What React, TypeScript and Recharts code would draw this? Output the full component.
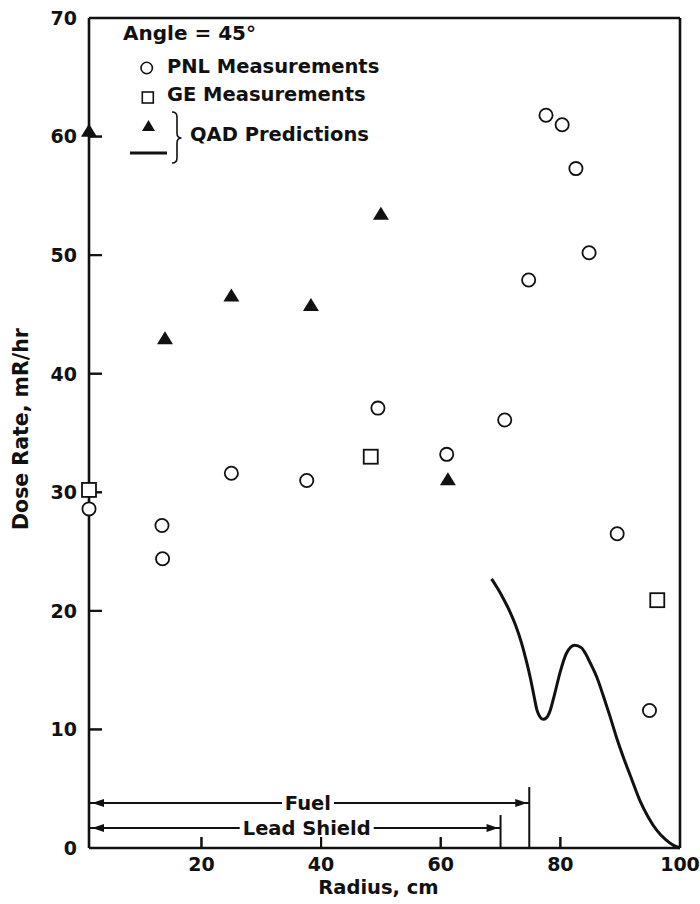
import React from 'react';
import {
  ComposedChart,
  XAxis,
  YAxis,
  Scatter,
  Line,
  ReferenceLine,
  ReferenceDot,
  Legend,
} from 'recharts';

const FONT = '"DejaVu Sans", "Liberation Sans", sans-serif';
const INK = '#111';

// ---------- data ----------
const radiusTicks = [20, 40, 60, 80, 100];
const doseTicks = [0, 10, 20, 30, 40, 50, 60, 70];
const radiusInnerTicks = [20, 40, 60, 80];
const doseInnerTicks = [10, 20, 30, 40, 50, 60];

const pnlRadius = [1.2, 13.4, 13.5, 25.0, 37.6, 49.5, 61.0, 70.7, 74.7, 77.6, 80.3, 82.6, 84.8, 89.5, 94.9];
const pnlDose = [28.6, 27.2, 24.4, 31.6, 31.0, 37.1, 33.2, 36.1, 47.9, 61.8, 61.0, 57.3, 50.2, 26.5, 11.6];

const geRadius = [1.2, 48.3, 96.2];
const geDose = [30.2, 33.0, 20.9];

const qadPointRadius = [1.2, 13.9, 25.0, 38.3, 50.0, 61.2];
const qadPointDose = [60.5, 43.0, 46.6, 45.8, 53.5, 31.1];

const qadCurveRadius = [68.5, 69.5, 70.5, 71.5, 72.5, 73.5, 74.3, 75.0, 75.6, 76.1, 76.6, 77.1, 77.7, 78.3, 79.0, 80.0, 81.0, 82.4, 83.5, 84.2, 85.0, 86.1, 87.2, 88.3, 89.4, 90.5, 92.0, 93.3, 94.7, 96.1, 97.6, 99.0, 100];
const qadCurveDose = [22.7, 21.9, 21.0, 20.0, 18.8, 17.3, 15.8, 14.3, 12.8, 11.6, 11.05, 10.85, 11.0, 11.6, 12.9, 14.9, 16.4, 17.1, 16.9, 16.4, 15.6, 14.4, 12.8, 11.1, 9.3, 7.7, 5.7, 4.0, 2.6, 1.5, 0.7, 0.2, 0];

const axisStart = 1.2;
const axisEnd = 100;
const doseMax = 70;
const fuelEdge = 74.8;
const leadEdge = 70;
const fuelArrowLevel = 3.79;
const leadArrowLevel = 1.69;
const fuelMarkTop = 5.14;
const leadMarkTop = 2.78;
const fuelLabelAt = 37.8;
const leadLabelAt = 37.6;

const zip = (rs: number[], vs: number[]) => rs.map((r, i) => ({ r, v: vs[i] }));
const pnlData = zip(pnlRadius, pnlDose);
const geData = zip(geRadius, geDose);
const qadPointData = zip(qadPointRadius, qadPointDose);
const qadCurveData = zip(qadCurveRadius, qadCurveDose);

// ---------- shapes ----------
const CircleShape = (p: any) => (
  <circle cx={p.cx} cy={p.cy} r={6.6} fill="#fff" stroke={INK} strokeWidth={1.8} />
);
const SquareShape = (p: any) => (
  <rect x={p.cx - 7} y={p.cy - 7} width={14} height={14} fill="#fff" stroke={INK} strokeWidth={1.8} />
);
const TriangleShape = (p: any) => (
  <polygon
    points={`${p.cx},${p.cy - 7} ${p.cx - 8},${p.cy + 6} ${p.cx + 8},${p.cy + 6}`}
    fill={INK}
  />
);
const LeftArrow = (p: any) => (
  <polygon points={`${p.cx + 3},${p.cy} ${p.cx + 15},${p.cy - 4} ${p.cx + 15},${p.cy + 4}`} fill={INK} />
);
const RightArrow = (p: any) => (
  <polygon points={`${p.cx - 2},${p.cy} ${p.cx - 14},${p.cy - 4} ${p.cx - 14},${p.cy + 4}`} fill={INK} />
);
const makeTag = (text: string, w: number) => (p: any) => (
  <g>
    <rect x={p.cx - w / 2} y={p.cy - 9} width={w} height={18} fill="#fff" />
    <text
      x={p.cx}
      y={p.cy}
      dy="0.36em"
      textAnchor="middle"
      fontFamily={FONT}
      fontWeight="bold"
      fontSize={19.5}
      fill={INK}
    >
      {text}
    </text>
  </g>
);

// ---------- ticks ----------
const YTick = (props: any) => {
  const { x, y, payload } = props;
  return (
    <text x={x} y={y} dy="0.36em" textAnchor="end" fontFamily={FONT} fontWeight="bold" fontSize={19} fill={INK}>
      {payload.value}
    </text>
  );
};

const XTick = (props: any) => {
  const { x, y, payload } = props;
  return (
    <text x={x} y={y} dy="0.71em" textAnchor="middle" fontFamily={FONT} fontWeight="bold" fontSize={19} fill={INK}>
      {payload.value}
    </text>
  );
};

const XLabel = (props: any) => {
  const vb = props.viewBox || {};
  const left = vb.x ?? 89;
  const width = vb.width ?? 591;
  const top = vb.y ?? 848;
  const cx = left + width / 2 - 6;
  return (
    <g>
      {radiusInnerTicks.map((r) => {
        const tx = left + (width * (r - axisStart)) / (axisEnd - axisStart);
        return <rect key={r} x={tx - 1} y={top - 11} width={2} height={11} fill={INK} />;
      })}
      <text x={cx} y={894} textAnchor="middle" fontFamily={FONT} fontWeight="bold" fontSize={19.5} fill={INK}>
        Radius, cm
      </text>
    </g>
  );
};

const YLabel = (props: any) => {
  const vb = props.viewBox || {};
  const top = vb.y ?? 18;
  const height = vb.height ?? 830;
  const axisX = (vb.x ?? 0) + (vb.width ?? 89);
  const cy = top + height / 2 - 4;
  return (
    <g>
      {doseInnerTicks.map((d) => {
        const ty = top + (height * (doseMax - d)) / doseMax;
        return <rect key={d} x={axisX} y={ty - 1} width={13} height={2} fill={INK} />;
      })}
      <text
        x={28}
        y={cy}
        transform={`rotate(-90, 28, ${cy})`}
        textAnchor="middle"
        fontFamily={FONT}
        fontWeight="bold"
        fontSize={20.5}
        fill={INK}
      >
        Dose Rate, mR/hr
      </text>
    </g>
  );
};

// ---------- legend ----------
const LegendBox = () => (
  <svg width={300} height={165} style={{ display: 'block', overflow: 'visible' }}>
    <g fontFamily={FONT} fontWeight="bold" fill={INK}>
      <text x={13} y={30} fontSize={20}>Angle = 45°</text>
      <text x={57} y={63} fontSize={19.5}>PNL Measurements</text>
      <text x={57} y={90.5} fontSize={19.5}>GE Measurements</text>
      <text x={80} y={130.5} fontSize={19.5}>QAD Predictions</text>
    </g>
    <circle cx={36.7} cy={58} r={5.7} fill="#fff" stroke={INK} strokeWidth={1.6} />
    <rect x={32.3} y={82} width={11} height={11} fill="#fff" stroke={INK} strokeWidth={1.6} />
    <polygon points="38.5,110 32,121 45,121" fill={INK} />
    <line x1={20} x2={57} y1={143} y2={143} stroke={INK} strokeWidth={3} />
    <path
      d="M62,102 Q67,102 67,107 L67,123 Q67,128 71.5,128 Q67,128 67,133 L67,148 Q67,153 62,153"
      fill="none"
      stroke={INK}
      strokeWidth={1.6}
    />
  </svg>
);

export default function App() {
  return (
    <div style={{ width: 700, height: 904, background: '#fff' }}>
      <style>{`body{margin:0;background:#fff;}`}</style>
      <ComposedChart width={700} height={904} margin={{ top: 18, right: 20, bottom: 0, left: 0 }}>
        <XAxis
          type="number"
          dataKey="r"
          domain={[axisStart, axisEnd]}
          ticks={radiusTicks}
          height={56}
          tickSize={-11}
          tickMargin={21}
          tickLine={{ stroke: INK, strokeWidth: 2 }}
          axisLine={{ stroke: INK, strokeWidth: 2.6 }}
          tick={<XTick />}
          label={<XLabel />}
        />
        <YAxis
          type="number"
          dataKey="v"
          domain={[0, doseMax]}
          ticks={doseTicks}
          width={89}
          tickSize={-13}
          tickMargin={25}
          tickLine={{ stroke: INK, strokeWidth: 2 }}
          axisLine={{ stroke: INK, strokeWidth: 2.6 }}
          tick={<YTick />}
          label={<YLabel />}
        />
        <ReferenceLine y={doseMax} stroke={INK} strokeWidth={2.6} />
        <ReferenceLine x={axisEnd} stroke={INK} strokeWidth={2.6} />

        <ReferenceLine segment={[{ x: fuelEdge, y: 0 }, { x: fuelEdge, y: fuelMarkTop }]} stroke={INK} strokeWidth={2} />
        <ReferenceLine segment={[{ x: leadEdge, y: 0 }, { x: leadEdge, y: leadMarkTop }]} stroke={INK} strokeWidth={2} />
        <ReferenceLine segment={[{ x: axisStart, y: fuelArrowLevel }, { x: fuelEdge, y: fuelArrowLevel }]} stroke={INK} strokeWidth={2} />
        <ReferenceLine segment={[{ x: axisStart, y: leadArrowLevel }, { x: leadEdge, y: leadArrowLevel }]} stroke={INK} strokeWidth={2} />
        <ReferenceDot x={axisStart} y={fuelArrowLevel} shape={LeftArrow} />
        <ReferenceDot x={fuelEdge} y={fuelArrowLevel} shape={RightArrow} />
        <ReferenceDot x={axisStart} y={leadArrowLevel} shape={LeftArrow} />
        <ReferenceDot x={leadEdge} y={leadArrowLevel} shape={RightArrow} />
        <ReferenceDot x={fuelLabelAt} y={fuelArrowLevel} shape={makeTag('Fuel', 52)} />
        <ReferenceDot x={leadLabelAt} y={leadArrowLevel} shape={makeTag('Lead Shield', 134)} />

        <Line
          data={qadCurveData}
          dataKey="v"
          type="monotone"
          stroke={INK}
          strokeWidth={3}
          dot={false}
          activeDot={false}
          isAnimationActive={false}
          name="QAD curve"
        />
        <Scatter data={pnlData} dataKey="v" shape={CircleShape} isAnimationActive={false} name="PNL Measurements" />
        <Scatter data={geData} dataKey="v" shape={SquareShape} isAnimationActive={false} name="GE Measurements" />
        <Scatter data={qadPointData} dataKey="v" shape={TriangleShape} isAnimationActive={false} name="QAD Predictions" />

        <Legend
          layout="horizontal"
          verticalAlign="middle"
          align="center"
          content={() => <LegendBox />}
          wrapperStyle={{ position: 'absolute', left: 110, top: 10, width: 300, height: 165 }}
        />
      </ComposedChart>
    </div>
  );
}
